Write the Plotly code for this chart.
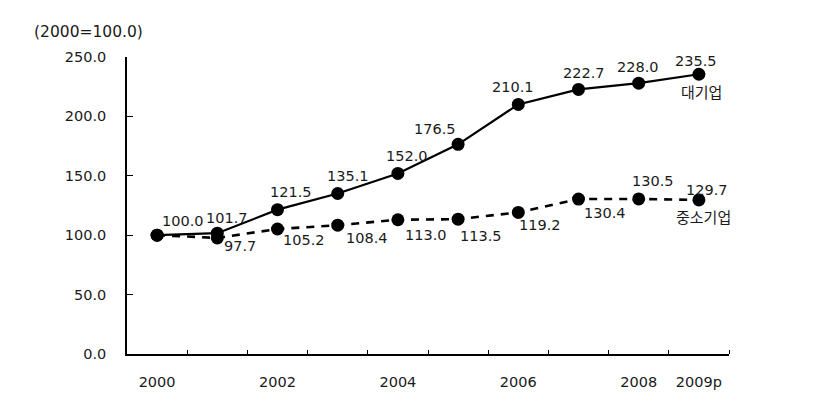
import plotly.graph_objects as go

years = ["2000", "2001", "2002", "2003", "2004", "2005", "2006", "2007", "2008", "2009p"]
tick_labels = ["2000", "2002", "2004", "2006", "2008", "2009p"]
tick_idx = [0, 2, 4, 6, 8, 9]
large = [100.0, 101.7, 121.5, 135.1, 152.0, 176.5, 210.1, 222.7, 228.0, 235.5]
sme = [100.0, 97.7, 105.2, 108.4, 113.0, 113.5, 119.2, 130.4, 130.5, 129.7]
large_name = "대기업"
sme_name = "중소기업"
base_note = "(2000=100.0)"

# label offsets (pixels)
large_shift = [(26, 14), (10, 15), (13, 18), (10, 18), (9, 17), (-23, 15), (-5, 17), (5, 16), (-1, 16), (-3, 13)]
sme_shift = [None, (23, -8), (26, -11), (29, -13), (28, -15), (23, -17), (22, -13), (26, -14), (14, 18), (8, 10)]

x = list(range(len(years)))
FONT = "DejaVu Sans"
FS = 14.5
TXT = "#1a1a1a"

fig = go.Figure()
fig.add_trace(go.Scatter(x=x, y=sme, mode="lines+markers",
                         line=dict(color="black", width=2.6, dash="8px,7px"),
                         marker=dict(color="black", size=13), showlegend=False))
fig.add_trace(go.Scatter(x=x, y=large, mode="lines+markers",
                         line=dict(color="black", width=2.2),
                         marker=dict(color="black", size=13), showlegend=False))

anns = []
for i, v in enumerate(large):
    dx, dy = large_shift[i]
    anns.append(dict(x=i, y=v, text=f"{v:.1f}", showarrow=False, xshift=dx, yshift=dy,
                     font=dict(family=FONT, size=FS, color=TXT)))
for i, v in enumerate(sme):
    if sme_shift[i] is None:
        continue
    dx, dy = sme_shift[i]
    anns.append(dict(x=i, y=v, text=f"{v:.1f}", showarrow=False, xshift=dx, yshift=dy,
                     font=dict(family=FONT, size=FS, color=TXT)))
anns.append(dict(x=9, y=large[9], text=large_name, showarrow=False, xshift=3, yshift=-17,
                 font=dict(family="Noto Sans CJK KR", size=15, color=TXT)))
anns.append(dict(x=9, y=sme[9], text=sme_name, showarrow=False, xshift=5, yshift=-17,
                 font=dict(family="Noto Sans CJK KR", size=15, color=TXT)))
anns.append(dict(xref="paper", yref="paper", x=-0.158, y=1.083, xanchor="left", yanchor="middle",
                 text=base_note, showarrow=False,
                 font=dict(family=FONT, size=15.5, color=TXT)))

fig.update_layout(
    width=828, height=402,
    margin=dict(l=127, r=99, t=57, b=45),
    plot_bgcolor="white", paper_bgcolor="white",
    annotations=anns,
    xaxis=dict(range=[-0.5, 9.5], tickvals=tick_idx, ticktext=tick_labels, ticks="",
               showgrid=False, zeroline=False, showline=True, linecolor="black", linewidth=1.5,
               tickfont=dict(family=FONT, size=FS, color=TXT), ticklabelstandoff=14,
               minor=dict(tickvals=[i + 0.5 for i in x], ticks="inside", ticklen=4,
                          tickcolor="black", tickwidth=1.2, showgrid=False)),
    yaxis=dict(range=[0, 250], tickvals=[0, 50, 100, 150, 200, 250], tickformat=".1f",
               ticks="inside", ticklen=6, tickcolor="black", tickwidth=1.2,
               showgrid=False, zeroline=False, showline=True, linecolor="black", linewidth=1.5,
               tickfont=dict(family=FONT, size=FS, color=TXT), ticklabelstandoff=16),
)

fig.write_html("out.html")
